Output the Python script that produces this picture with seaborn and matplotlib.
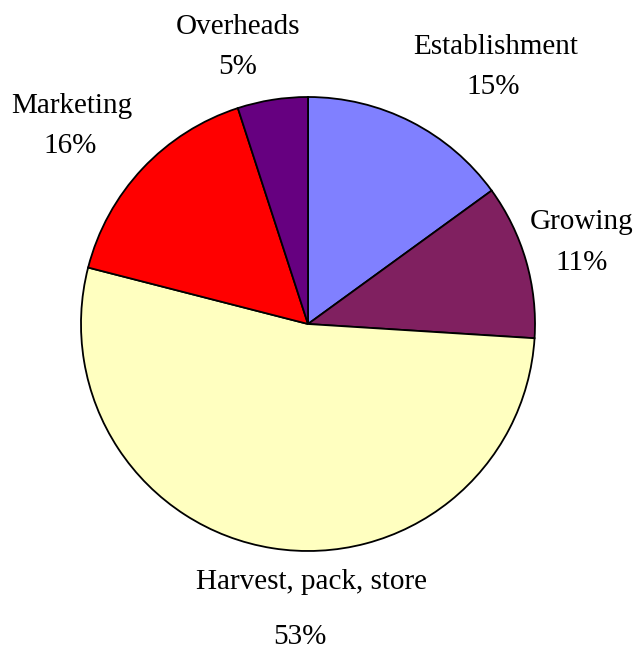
import matplotlib
matplotlib.use("Agg")
import matplotlib.pyplot as plt
import seaborn as sns

# cost breakdown (percent)
categories = ['Establishment', 'Growing', 'Harvest, pack, store', 'Marketing', 'Overheads']
shares = [15, 11, 53, 16, 5]
colors = ['#8080FF', '#802060', '#FFFFC0', '#FF0000', '#660080']

# label anchor points (pixels in the 638x650 image): name line, percent line
name_px = [(496, 47), (582, 222), (312, 582), (72, 106), (238, 27)]
pct_px = [(493, 87), (582, 263), (300, 637), (70, 146), (238, 67)]

sns.set_style("white")
plt.rcParams['font.family'] = ['Liberation Serif', 'DejaVu Serif']

W, H = 638, 650
cx, cy, r = 308, 324, 227

fig = plt.figure(figsize=(W / 100, H / 100), dpi=100)
ax = fig.add_axes([0, 0, 1, 1])
ax.pie(shares, colors=colors, startangle=90, counterclock=False, radius=1,
       wedgeprops=dict(edgecolor='black', linewidth=1.3))
ax.set_xlim(-cx / r, (W - cx) / r)
ax.set_ylim(-(H - cy) / r, cy / r)
ax.set_aspect('auto')
ax.axis('off')


def to_data(p):
    return (p[0] - cx) / r, (cy - p[1]) / r


for name, val, npx, ppx in zip(categories, shares, name_px, pct_px):
    x, y = to_data(npx)
    ax.text(x, y, name, ha='center', va='center', fontsize=21, color='black')
    x, y = to_data(ppx)
    ax.text(x, y, f'{val}%', ha='center', va='center', fontsize=21, color='black')

fig.savefig('out.png', dpi=100, facecolor='white')
plt.close(fig)
